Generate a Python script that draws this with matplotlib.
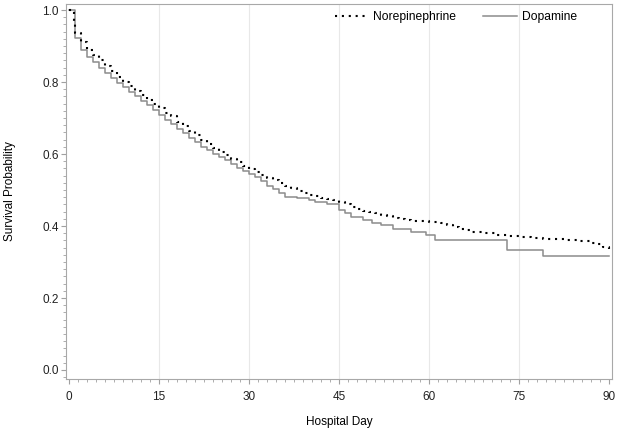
import matplotlib
matplotlib.use("Agg")
from matplotlib import pyplot as plt
from matplotlib.ticker import MultipleLocator

plt.rcParams['font.family'] = ['Liberation Sans', 'DejaVu Sans']

# Kaplan-Meier step data
ne_days = [0, 0.8, 1, 2, 3, 4, 5, 6, 7, 8, 9, 10, 11, 12, 13, 14, 15, 16, 17, 18, 19,
           20, 21, 22, 23, 24, 25, 26, 27, 28, 29, 30, 31, 32, 33, 34, 35, 36, 37, 38, 39,
           40, 41, 42, 43, 44, 45, 46, 47, 48, 49, 50, 51, 52, 53, 54, 55, 56, 57, 58, 59,
           60, 62, 63, 64, 65, 66, 67, 69, 71, 73, 75, 77, 79, 81, 83, 85, 87, 88, 89, 90]
ne_surv = [1.0, 0.96, 0.935, 0.91, 0.89, 0.875, 0.86, 0.845, 0.83, 0.815, 0.80, 0.79,
           0.775, 0.765, 0.75, 0.74, 0.728, 0.715, 0.705, 0.69, 0.678, 0.665, 0.652, 0.64,
           0.628, 0.616, 0.606, 0.596, 0.587, 0.578, 0.568, 0.557, 0.55, 0.542, 0.534,
           0.527, 0.52, 0.512, 0.505, 0.498, 0.492, 0.487, 0.483, 0.479, 0.475, 0.471,
           0.466, 0.46, 0.454, 0.448, 0.443, 0.439, 0.435, 0.431, 0.427, 0.423, 0.42,
           0.417, 0.415, 0.414, 0.413, 0.412, 0.408, 0.403, 0.398, 0.393, 0.388, 0.384,
           0.38, 0.375, 0.371, 0.369, 0.367, 0.365, 0.363, 0.361, 0.358, 0.354, 0.35,
           0.343, 0.336]

dop_days = [0, 0.95, 2, 3, 4, 5, 6, 7, 8, 9, 10, 11, 12, 13, 14, 15, 16, 17, 18, 19, 20,
            21, 22, 23, 24, 25, 26, 27, 28, 29, 30, 31, 32, 33, 34, 35, 36, 38, 40, 41, 43,
            45, 46, 47, 49, 50.5, 52, 54, 57, 59.5, 61, 73, 79, 90]
dop_surv = [1.0, 0.921, 0.89, 0.87, 0.855, 0.84, 0.825, 0.81, 0.797, 0.785, 0.772, 0.76,
            0.748, 0.735, 0.722, 0.708, 0.695, 0.682, 0.67, 0.657, 0.645, 0.633, 0.62,
            0.61, 0.60, 0.592, 0.583, 0.573, 0.562, 0.552, 0.545, 0.535, 0.525, 0.511,
            0.503, 0.492, 0.481, 0.478, 0.472, 0.468, 0.461, 0.445, 0.435, 0.426, 0.418,
            0.409, 0.402, 0.393, 0.384, 0.375, 0.362, 0.333, 0.318, 0.318]

x_ticks = [0, 15, 30, 45, 60, 75, 90]
y_ticks = [0.0, 0.2, 0.4, 0.6, 0.8, 1.0]

fig = plt.figure(figsize=(6.18, 4.32), dpi=100)
ax = fig.add_axes([0.1068, 0.1227, 0.883, 0.868])

for xt in x_ticks[1:-1]:
    ax.axvline(xt, color='#e8e8e8', lw=0.8, zorder=0)

ax.step(dop_days, dop_surv, where='post', color='#8c8c8c', lw=1.1, label='Dopamine')
ax.step(ne_days, ne_surv, where='post', color='black', lw=1.5,
        dashes=(1, 2.3), label='Norepinephrine')

ax.set_xlim(-0.5, 90.5)
ax.set_ylim(-0.025, 1.0167)
ax.set_xticks(x_ticks)
ax.set_yticks(y_ticks)
ax.set_yticklabels(['%.1f' % v for v in y_ticks])
ax.xaxis.set_minor_locator(MultipleLocator(1.5))
ax.yaxis.set_minor_locator(MultipleLocator(0.02))

for s in ax.spines.values():
    s.set_color('#a8a8a8')
    s.set_linewidth(0.8)
ax.tick_params(which='major', direction='out', length=3.6, width=0.8, color='#a0a0a0',
               labelsize=8.5, labelcolor='#222222')
ax.tick_params(which='minor', direction='out', length=2.2, width=0.6, color='#a0a0a0')
ax.tick_params(axis='x', which='major', pad=5)
ax.tick_params(axis='y', which='major', pad=1.8)

ax.set_xlabel('Hospital Day', fontsize=8.5, va='center')
ax.set_ylabel('Survival Probability', fontsize=8.5, va='center')
ax.xaxis.set_label_coords(0.5, -0.115)
ax.yaxis.set_label_coords(-0.1026, 0.5)

h, l = ax.get_legend_handles_labels()
ax.legend(h[::-1], l[::-1], loc='upper right', ncol=2, frameon=False, fontsize=8.7,
          handlelength=2.8, handletextpad=0.4, columnspacing=2.2,
          borderpad=0, borderaxespad=0, bbox_to_anchor=(0.936, 0.981))

plt.savefig('out.png', dpi=100)
